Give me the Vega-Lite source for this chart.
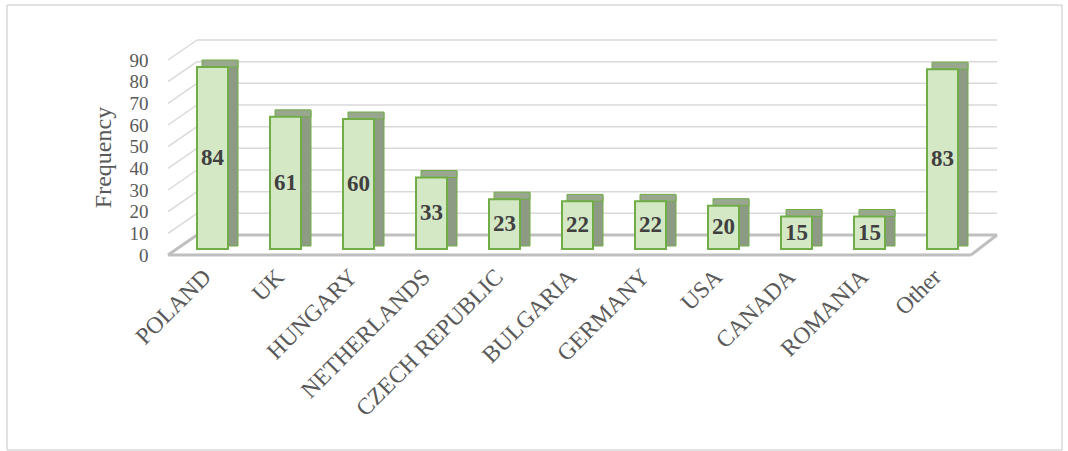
{
  "$schema": "https://vega.github.io/schema/vega-lite/v6.json",
  "width": 803,
  "height": 195,
  "autosize": {"type": "none"},
  "padding": {"left": 176, "top": 54, "right": 89, "bottom": 202},
  "background": "white",
  "config": {
    "view": {"stroke": null},
    "font": "Liberation Serif",
    "axis": {"labelOverlap": false, "labelFlush": false},
    "axisY": {"labelOverlap": false, "tickCount": 10}
  },
  "datasets": {
    "bars": [
      {"country": "POLAND", "frequency": 84},
      {"country": "UK", "frequency": 61},
      {"country": "HUNGARY", "frequency": 60},
      {"country": "NETHERLANDS", "frequency": 33},
      {"country": "CZECH REPUBLIC", "frequency": 23},
      {"country": "BULGARIA", "frequency": 22},
      {"country": "GERMANY", "frequency": 22},
      {"country": "USA", "frequency": 20},
      {"country": "CANADA", "frequency": 15},
      {"country": "ROMANIA", "frequency": 15},
      {"country": "Other", "frequency": 83}
    ],
    "grid": [
      {"level": 10}, {"level": 20}, {"level": 30}, {"level": 40}, {"level": 50},
      {"level": 60}, {"level": 70}, {"level": 80}, {"level": 90}
    ]
  },
  "layer": [
    {
      "data": {"name": "bars"},
      "mark": {"type": "bar", "width": 31, "fill": "#d5e8c6", "stroke": "#70ad47", "strokeWidth": 2, "opacity": 0},
      "encoding": {
        "x": {"field": "country", "type": "nominal", "sort": null,
              "scale": {"domain": ["POLAND","UK","HUNGARY","NETHERLANDS","CZECH REPUBLIC","BULGARIA","GERMANY","USA","CANADA","ROMANIA","Other"], "paddingInner": 0, "paddingOuter": 0},
              "axis": {"orient": "bottom", "domain": false, "ticks": false, "grid": false, "title": null,
                       "labelAngle": -45, "labelAlign": "right", "labelBaseline": "middle", "labelPadding": 24, "labelOffset": -5,
                       "labelFontSize": 23.5, "labelColor": "#595959", "labelFont": "Liberation Serif", "labelLimit": 400, "labelOverlap": false}},
        "y": {"field": "frequency", "type": "quantitative", "scale": {"domain": [0, 90], "nice": false},
              "axis": {"orient": "left", "values": [0, 10, 20, 30, 40, 50, 60, 70, 80, 90], "tickCount": 10, "domain": false, "ticks": false, "grid": false,
                       "labelPadding": 28, "labelOffset": 6, "labelFontSize": 19, "labelColor": "#595959", "labelFont": "Liberation Serif",
                       "labelOverlap": false, "labelFlush": false, "labelSeparation": 0,
                       "title": "Frequency", "titleFont": "Liberation Serif", "titleFontSize": 24, "titleFontWeight": "normal", "titleColor": "#595959",
                       "titleX": -73, "titleY": 103, "titleAngle": 270, "titleAlign": "center", "titleBaseline": "middle"}},
        "y2": {"datum": 0}
      }
    },
    {
      "data": {"values": [{"edge": "left"}]},
      "mark": {"type": "rule", "color": "#d9d9d9", "strokeWidth": 1.5, "xOffset": -205.5, "x2Offset": -205.5, "yOffset": -49, "y2Offset": 201},
      "encoding": {
        "x": {"datum": "POLAND", "type": "nominal"},
        "x2": {"datum": "POLAND"},
        "y": {"datum": 90, "type": "quantitative"},
        "y2": {"datum": 0}
      }
    },
    {
      "data": {"values": [{"edge": "top"}]},
      "mark": {"type": "rule", "color": "#d9d9d9", "strokeWidth": 1.5, "xOffset": -205.5, "x2Offset": 119.5, "yOffset": -49},
      "encoding": {
        "x": {"datum": "POLAND", "type": "nominal"},
        "x2": {"datum": "Other"},
        "y": {"datum": 90, "type": "quantitative"}
      }
    },
    {
      "data": {"values": [{"edge": "right"}]},
      "mark": {"type": "rule", "color": "#d9d9d9", "strokeWidth": 1.5, "xOffset": 119.5, "x2Offset": 119.5, "yOffset": -49, "y2Offset": 201},
      "encoding": {
        "x": {"datum": "Other", "type": "nominal"},
        "x2": {"datum": "Other"},
        "y": {"datum": 90, "type": "quantitative"},
        "y2": {"datum": 0}
      }
    },
    {
      "data": {"values": [{"edge": "bottom"}]},
      "mark": {"type": "rule", "color": "#d9d9d9", "strokeWidth": 1.5, "xOffset": -205.5, "x2Offset": 119.5, "yOffset": 201},
      "encoding": {
        "x": {"datum": "POLAND", "type": "nominal"},
        "x2": {"datum": "Other"},
        "y": {"datum": 0, "type": "quantitative"}
      }
    },
    {
      "data": {"name": "grid"},
      "mark": {"type": "rule", "color": "#d9d9d9", "strokeWidth": 1.5, "xOffset": -44.5, "x2Offset": -15.5, "yOffset": 6, "y2Offset": -14},
      "encoding": {
        "x": {"datum": "POLAND", "type": "nominal"},
        "x2": {"datum": "POLAND"},
        "y": {"field": "level", "type": "quantitative"},
        "y2": {"field": "level"}
      }
    },
    {
      "data": {"name": "grid"},
      "mark": {"type": "rule", "color": "#d9d9d9", "strokeWidth": 1.5, "xOffset": -15.5, "x2Offset": 54.5, "yOffset": -14},
      "encoding": {
        "x": {"datum": "POLAND", "type": "nominal"},
        "x2": {"datum": "Other"},
        "y": {"field": "level", "type": "quantitative"}
      }
    },
    {
      "data": {"values": [{"floor": 0}]},
      "mark": {"type": "rule", "color": "#bfbfbf", "strokeWidth": 3, "xOffset": -44.5, "x2Offset": -15.5, "yOffset": 6, "y2Offset": -14},
      "encoding": {
        "x": {"datum": "POLAND", "type": "nominal"},
        "x2": {"datum": "POLAND"},
        "y": {"field": "floor", "type": "quantitative"},
        "y2": {"field": "floor"}
      }
    },
    {
      "data": {"values": [{"floor": 0}]},
      "mark": {"type": "rule", "color": "#bfbfbf", "strokeWidth": 3, "xOffset": -15.5, "x2Offset": 54.5, "yOffset": -14},
      "encoding": {
        "x": {"datum": "POLAND", "type": "nominal"},
        "x2": {"datum": "Other"},
        "y": {"field": "floor", "type": "quantitative"}
      }
    },
    {
      "data": {"values": [{"floor": 0}]},
      "mark": {"type": "rule", "color": "#bfbfbf", "strokeWidth": 3, "xOffset": -44.5, "x2Offset": 28.5, "yOffset": 6},
      "encoding": {
        "x": {"datum": "POLAND", "type": "nominal"},
        "x2": {"datum": "Other"},
        "y": {"field": "floor", "type": "quantitative"}
      }
    },
    {
      "data": {"values": [{"floor": 0}]},
      "mark": {"type": "rule", "color": "#bfbfbf", "strokeWidth": 3, "xOffset": 28.5, "x2Offset": 54.5, "yOffset": 6, "y2Offset": -14},
      "encoding": {
        "x": {"datum": "Other", "type": "nominal"},
        "x2": {"datum": "Other"},
        "y": {"field": "floor", "type": "quantitative"},
        "y2": {"field": "floor"}
      }
    },
    {
      "data": {"name": "bars"},
      "mark": {"type": "bar", "width": 10, "xOffset": 20.5, "yOffset": -6, "y2Offset": -3, "fill": "#8e9b84", "stroke": "#70ad47", "strokeWidth": 1},
      "encoding": {
        "x": {"field": "country", "type": "nominal", "sort": null},
        "y": {"field": "frequency", "type": "quantitative"},
        "y2": {"datum": 0}
      }
    },
    {
      "data": {"name": "bars"},
      "mark": {"type": "bar", "width": 36, "xOffset": 7.5, "yOffset": -7, "y2Offset": 0, "fill": "#9aa78f", "stroke": "#70ad47", "strokeWidth": 1},
      "encoding": {
        "x": {"field": "country", "type": "nominal", "sort": null},
        "y": {"field": "frequency", "type": "quantitative"},
        "y2": {"field": "frequency"}
      }
    },
    {
      "data": {"name": "bars"},
      "mark": {"type": "bar", "width": 31, "fill": "#d5e8c6", "stroke": "#70ad47", "strokeWidth": 2},
      "encoding": {
        "x": {"field": "country", "type": "nominal", "sort": null},
        "y": {"field": "frequency", "type": "quantitative"},
        "y2": {"datum": 0}
      }
    },
    {
      "data": {"name": "bars"},
      "mark": {"type": "text", "font": "Liberation Serif", "fontWeight": "bold", "fontSize": 23, "color": "#404040", "baseline": "middle", "align": "center"},
      "encoding": {
        "x": {"field": "country", "type": "nominal", "sort": null},
        "y": {"field": "frequency", "type": "quantitative", "stack": "zero", "bandPosition": 0.5},
        "text": {"field": "frequency", "type": "quantitative"}
      }
    }
  ]
}
